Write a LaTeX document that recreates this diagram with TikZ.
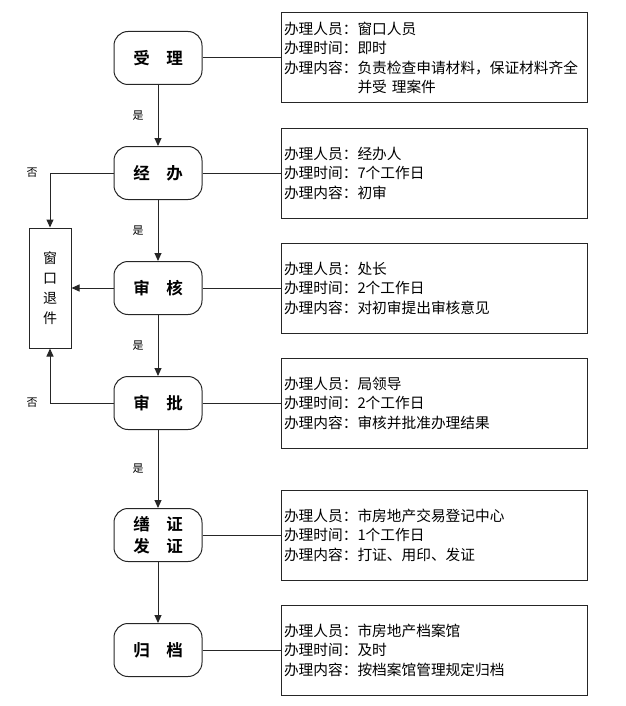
\documentclass[tikz,border=0pt]{standalone}
\usepackage{fontspec}
\newfontfamily\cjk{Noto Sans CJK SC}
\newfontfamily\cjkbold{Noto Sans CJK SC Bold}
\usetikzlibrary{positioning}
\usetikzlibrary{calc}
\usetikzlibrary{arrows.meta}

\tikzset{
  stepbox/.style={draw, rounded corners=14pt, minimum width=88pt, minimum height=53pt,
    align=center, font=\cjkbold\fontsize{16.5}{22}\selectfont},
  infobox/.style={draw, minimum width=306pt, minimum height=90pt, text width=300pt,
    inner xsep=3pt, align=left, font=\cjk\fontsize{14.7}{19.5}\selectfont},
  backbox/.style={draw, minimum width=42pt, minimum height=120pt, align=center,
    font=\cjk\fontsize{14}{20}\selectfont},
  yesno/.style={inner sep=0pt, font=\cjk\fontsize{11}{13}\selectfont},
}

\begin{document}
\begin{tikzpicture}[x=1pt, y=-1pt, line width=1pt, draw=black!85,
    >={Triangle[length=8pt, width=7pt]}]
  \useasboundingbox (0,0) rectangle (625,706);

  % steps
  \node[stepbox] (S1) at (158,58)  {受\quad 理};
  \node[stepbox] (S2) at (158,173) {经\quad 办};
  \node[stepbox] (S3) at (158,288) {审\quad 核};
  \node[stepbox] (S4) at (158,403) {审\quad 批};
  \node[stepbox] (S5) at (158,535) {缮\quad 证\\发\quad 证};
  \node[stepbox] (S6) at (158,650) {归\quad 档};

  \node[backbox] (Back) at (50,288) {窗\\口\\退\\件};

  % details
  \node[infobox] (D1) at (S1 -| 434,0) {办理人员：窗口人员\\办理时间：即时\\办理内容：负责检查申请材料，保证材料齐全\\\phantom{办理内容：}并受 理案件};
  \node[infobox] (D2) at (S2 -| 434,0) {办理人员：经办人\\办理时间：7个工作日\\办理内容：初审};
  \node[infobox] (D3) at (S3 -| 434,0) {办理人员：处长\\办理时间：2个工作日\\办理内容：对初审提出审核意见};
  \node[infobox] (D4) at (S4 -| 434,0) {办理人员：局领导\\办理时间：2个工作日\\办理内容：审核并批准办理结果};
  \node[infobox] (D5) at (S5 -| 434,0) {办理人员：市房地产交易登记中心\\办理时间：1个工作日\\办理内容：打证、用印、发证};
  \node[infobox] (D6) at (S6 -| 434,0) {办理人员：市房地产档案馆\\办理时间：及时\\办理内容：按档案馆管理规定归档};

  \foreach \z in {1,...,6} {
    \draw (S\z) -- (D\z);
  }

  \draw[->] (S1) -- node[yesno, left=14pt] (Yes1) {是} (S2);
  \draw[->] (S2) -- node[yesno, left=14pt] (Yes2) {是} (S3);
  \draw[->] (S3) -- node[yesno, left=14pt] (Yes3) {是} (S4);
  \draw[->] (S4) -- node[yesno, left=14pt] (Yes4) {是} (S5);
  \draw[->] (S5) -- (S6);

  \draw[->] (S2) -| node[yesno, pos=.5, left=12pt] (No1) {否} (Back);
  \draw[->] (S3) -- (Back);
  \draw[->] (S4) -| node[yesno, pos=.5, left=12pt] (No2) {否} (Back);
\end{tikzpicture}
\end{document}
